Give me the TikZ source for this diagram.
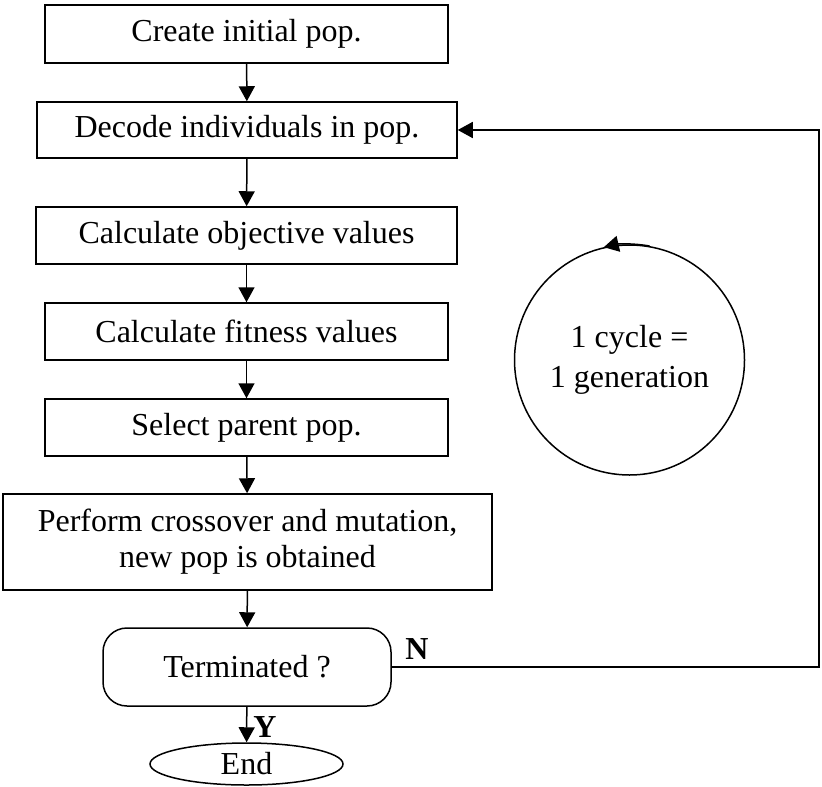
\documentclass[tikz,border=0pt]{standalone}
\usepackage{fontspec}
\setmainfont{Liberation Serif}
\usetikzlibrary{arrows.meta,shapes.geometric}
\begin{document}
\begin{tikzpicture}[x=0.5pt,y=-0.5pt,
  every node/.style={font=\fontsize{16}{18}\selectfont},
  stepbox/.style={draw,line width=0.75pt,rectangle,inner sep=0pt,align=center},
  flow/.style={draw,line width=0.75pt,-{Triangle[length=7.5pt,width=8pt]}},
  lbl/.style={font=\fontsize{16}{18}\selectfont\bfseries,inner sep=0pt}]
\useasboundingbox (0,0) rectangle (822,786);

% main sequence of steps
\node[stepbox,minimum width=201.5pt,minimum height=29pt] (create) at (246.5,34) {Create initial pop.};
\node[stepbox,minimum width=210pt,minimum height=28pt] (decode) at (247,130) {Decode individuals in pop.};
\node[stepbox,minimum width=210.5pt,minimum height=28.5pt] (obj) at (246.5,235.5) {Calculate objective values};
\node[stepbox,minimum width=201.5pt,minimum height=28.5pt] (fit) at (246.5,331.5) {Calculate fitness values};
\node[stepbox,minimum width=201.5pt,minimum height=28.5pt] (sel) at (246.5,427.5) {Select parent pop.};
\node[stepbox,minimum width=244.5pt,minimum height=48pt] (cross) at (247.5,542) {Perform crossover and mutation,\\new pop is obtained};
\node[stepbox,rounded corners=12pt,minimum width=144pt,minimum height=39pt] (term) at (247,667) {Terminated ?};
\node[draw,line width=0.75pt,ellipse,inner sep=0pt,minimum width=96.5pt,minimum height=21pt] (end) at (246.5,764) {End};

% cycle annotation
\node[draw,line width=0.75pt,circle,inner sep=0pt,minimum size=115pt,align=center,
      font=\fontsize{16}{20}\selectfont] (cyc) at (629.5,360) {1 cycle =\\1 generation};
\draw[flow] (cyc.80) arc[start angle=80,end angle=103,radius=57.5pt];

% connectors
\draw[flow] (create) -- (decode);
\draw[flow] (decode) -- (obj);
\draw[flow] (obj) -- (fit);
\draw[flow] (fit) -- (sel);
\draw[flow] (sel) -- (cross);
\draw[flow] (cross) -- (term);
\draw[flow] (term) -- (end);
\coordinate (loopdown) at (819,667);
\coordinate (loopup) at (819,130);
\draw[flow] (term.east) -- (loopdown) -- (loopup) -- (decode.east);

% branch labels
\node[lbl] (nlab) at (417,649) {N};
\node[lbl] (ylab) at (265,727) {Y};
\end{tikzpicture}
\end{document}
